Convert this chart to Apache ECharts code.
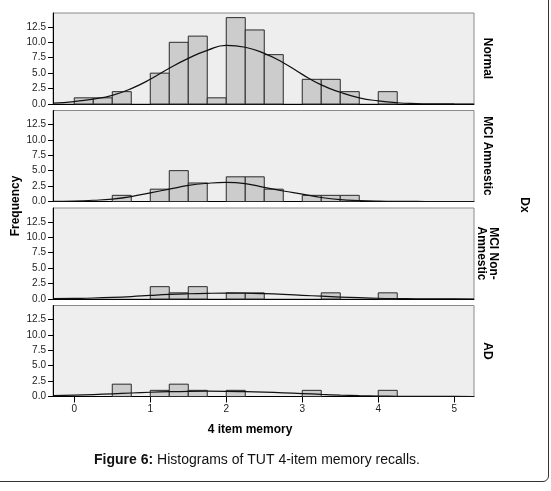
<!DOCTYPE html>
<html>
<head>
<meta charset="utf-8">
<script src="https://cdn.jsdelivr.net/npm/echarts@6/dist/echarts.min.js"></script>
<style>
  html, body { margin: 0; padding: 0; background: #fff; }
  #wrap { position: relative; width: 551px; height: 491px; overflow: hidden; }
  #chart { position: absolute; left: 0; top: 0; width: 551px; height: 491px; }
  #frame { position: absolute; left: -10px; top: -10px; width: 557px; height: 490px;
           border: 1px solid #333; border-radius: 6px; pointer-events: none; }
</style>
</head>
<body>
<div id="wrap">
  <div id="chart"></div>
  <div id="frame"></div>
</div>
<script>
// bin starts (width 0.25)
var binStarts = [0, 0.25, 0.5, 0.75, 1, 1.25, 1.5, 1.75, 2, 2.25, 2.5, 2.75, 3, 3.25, 3.5, 3.75, 4];
var panelNames = ['Normal', 'MCI Amnestic', 'MCI Non-\nAmnestic', 'AD'];

// counts per bin
var normalCounts = [1, 1, 2, 0, 5, 10, 11, 1, 14, 12, 8, 0, 4, 4, 2, 0, 2];
var mciACounts   = [0, 0, 1, 0, 2, 5, 3, 0, 4, 4, 2, 0, 1, 1, 1, 0, 0];
var mciNCounts   = [0, 0, 0, 0, 2, 1, 2, 0, 1, 1, 0, 0, 0, 1, 0, 0, 1];
var adCounts     = [0, 0, 2, 0, 1, 2, 1, 0, 1, 0, 0, 0, 1, 0, 0, 0, 1];

// fitted curve
var curveX     = [-0.28, 0, 0.25, 0.5, 0.75, 1, 1.25, 1.5, 1.75, 2, 2.25, 2.5, 2.75, 3, 3.25, 3.5, 3.75, 4, 4.25, 4.5, 4.75, 5, 5.26];
var normalCurve = [0.15, 0.4, 0.8, 1.4, 2.5, 4.0, 5.8, 7.4, 8.7, 9.5, 9.2, 8.2, 6.7, 4.8, 3.1, 1.9, 1.0, 0.5, 0.2, 0.08, 0.03, 0.01, 0];
var mciACurve   = [0.03, 0.08, 0.2, 0.4, 0.8, 1.4, 2.0, 2.6, 2.95, 3.1, 2.9, 2.3, 1.7, 1.2, 0.65, 0.3, 0.15, 0.06, 0.02, 0.01, 0, 0, 0];
var mciNCurve   = [0.05, 0.1, 0.16, 0.26, 0.4, 0.58, 0.74, 0.85, 0.92, 0.95, 0.93, 0.86, 0.75, 0.6, 0.45, 0.32, 0.21, 0.12, 0.07, 0.04, 0.02, 0.01, 0];
var adCurve     = [0.15, 0.23, 0.32, 0.44, 0.57, 0.69, 0.78, 0.84, 0.86, 0.84, 0.78, 0.7, 0.6, 0.48, 0.34, 0.22, 0.13, 0.07, 0.04, 0.02, 0.01, 0.01, 0];

var xTicks = [0, 1, 2, 3, 4, 5];
var yTicks = [0, 2.5, 5, 7.5, 10, 12.5];

var binWidth = 0.25;
var allCounts = [normalCounts, mciACounts, mciNCounts, adCounts];
var allCurves = [normalCurve, mciACurve, mciNCurve, adCurve];

var font = '"Liberation Sans", Arial, sans-serif';
var gridTops = [13, 110.5, 208, 305.5];
var gridH = 91;

var chart = echarts.init(document.getElementById('chart'));

var grids = [], xAxes = [], yAxes = [], series = [], graphics = [];

gridTops.forEach(function (top, i) {
    var last = i === gridTops.length - 1;
    grids.push({
        left: 53, width: 421, top: top, height: gridH,
        show: true, backgroundColor: '#eeeeee', borderColor: '#8a8a8a', borderWidth: 1
    });
    xAxes.push({
        type: 'value', gridIndex: i, min: -0.28, max: 5.26,
        splitLine: { show: false },
        axisLine: { show: true, onZero: false, lineStyle: { color: '#000', width: 1 } },
        axisTick: { show: last, length: 6, customValues: xTicks, lineStyle: { color: '#000' } },
        axisLabel: { show: last, customValues: xTicks, fontSize: 10, color: '#222', margin: 8, fontFamily: font }
    });
    yAxes.push({
        type: 'value', gridIndex: i, min: 0, max: 14.75,
        splitLine: { show: false },
        axisLine: { show: true, onZero: false, lineStyle: { color: '#000', width: 1 } },
        axisTick: { show: true, length: 5, customValues: yTicks, lineStyle: { color: '#000' } },
        axisLabel: {
            customValues: yTicks, fontSize: 10, color: '#222', margin: 7, fontFamily: font,
            formatter: function (v) { return v.toFixed(1); }
        }
    });

    var counts = allCounts[i];
    var barData = [];
    binStarts.forEach(function (b, k) {
        if (counts[k] > 0) barData.push([b, counts[k]]);
    });
    series.push({
        type: 'custom', xAxisIndex: i, yAxisIndex: i, data: barData, silent: true,
        renderItem: function (params, api) {
            var p0 = api.coord([api.value(0), api.value(1)]);
            var p1 = api.coord([api.value(0) + binWidth, 0]);
            return {
                type: 'rect',
                shape: { x: p0[0], y: p0[1], width: p1[0] - p0[0], height: p1[1] - p0[1] },
                style: { fill: '#cccccc', stroke: '#2a2a2a', lineWidth: 1 }
            };
        }
    });

    var curve = allCurves[i];
    series.push({
        type: 'line', xAxisIndex: i, yAxisIndex: i, smooth: true, symbol: 'none', silent: true,
        lineStyle: { color: '#111', width: 1.2 },
        data: curveX.map(function (x, k) { return [x, curve[k]]; })
    });

    graphics.push({
        type: 'text', x: 487, y: top + gridH / 2, rotation: -Math.PI / 2,
        style: {
            text: panelNames[i], font: 'bold 12px ' + font, fill: '#000',
            align: 'center', verticalAlign: 'middle', lineHeight: 12
        }
    });
});

graphics.push(
    {
        type: 'text', x: 16, y: 206, rotation: Math.PI / 2,
        style: { text: 'Frequency', font: 'bold 12px ' + font, fill: '#000', align: 'center', verticalAlign: 'middle' }
    },
    {
        type: 'text', x: 524, y: 205, rotation: -Math.PI / 2,
        style: { text: 'Dx', font: 'bold 12px ' + font, fill: '#000', align: 'center', verticalAlign: 'middle' }
    },
    {
        type: 'text', x: 250, y: 430,
        style: { text: '4 item memory', font: 'bold 12px ' + font, fill: '#000', align: 'center', verticalAlign: 'middle' }
    },
    {
        type: 'text', x: 257, y: 460,
        style: {
            text: '{b|Figure 6:} Histograms of TUT 4-item memory recalls.',
            font: '14px ' + font, fill: '#111', align: 'center', verticalAlign: 'middle',
            rich: { b: { font: 'bold 14px ' + font, fill: '#111' } }
        }
    }
);

chart.setOption({
    animation: false,
    grid: grids,
    xAxis: xAxes,
    yAxis: yAxes,
    series: series,
    graphic: graphics
});
</script>
</body>
</html>
